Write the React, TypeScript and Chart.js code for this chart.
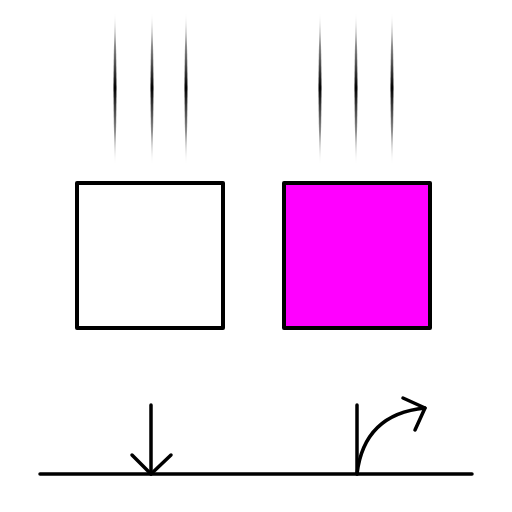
import { useEffect, useRef } from 'react';
import Chart from 'chart.js/auto';

// scene units are pixels of a 512x512 frame, y measured from the top
const squares = [
  { x0: 77, y0: 183, x1: 223, y1: 328, fill: '#ffffff' },
  { x0: 284, y0: 183, x1: 430, y1: 328, fill: '#ff00ff' },
];
const streakX = [115, 152, 186, 320, 356, 392];
const streakTop = 12;
const streakMid = 88;
const streakBottom = 165;
const segments = [
  [[40, 474], [472, 474]],
  [[151, 405], [151, 474]],
  [[132, 455], [151, 474], [171, 455]],
  [[357, 405], [357, 474]],
  [[403, 398], [425, 408], [415, 430]],
];
const curve = { from: [357, 474], ctrl: [364, 414], to: [425, 408] };

const scenePlugin = {
  id: 'scene',
  afterDraw(chart: Chart) {
    const { ctx, scales } = chart;
    const X = (v: number) => scales.x.getPixelForValue(v);
    const Y = (v: number) => scales.y.getPixelForValue(v);
    ctx.save();
    ctx.lineCap = 'round';
    ctx.lineJoin = 'round';

    streakX.forEach((sx) => {
      const g = ctx.createLinearGradient(0, Y(streakTop), 0, Y(streakBottom));
      g.addColorStop(0, 'rgba(0,0,0,0)');
      g.addColorStop((streakMid - streakTop) / (streakBottom - streakTop), 'rgba(0,0,0,1)');
      g.addColorStop(1, 'rgba(0,0,0,0)');
      ctx.fillStyle = g;
      ctx.beginPath();
      ctx.moveTo(X(sx), Y(streakTop));
      ctx.quadraticCurveTo(X(sx + 3), Y(streakMid), X(sx), Y(streakBottom));
      ctx.quadraticCurveTo(X(sx - 3), Y(streakMid), X(sx), Y(streakTop));
      ctx.fill();
    });

    squares.forEach((s) => {
      ctx.fillStyle = s.fill;
      ctx.strokeStyle = '#000';
      ctx.lineWidth = 4;
      ctx.fillRect(X(s.x0), Y(s.y0), X(s.x1) - X(s.x0), Y(s.y1) - Y(s.y0));
      ctx.strokeRect(X(s.x0), Y(s.y0), X(s.x1) - X(s.x0), Y(s.y1) - Y(s.y0));
    });

    ctx.strokeStyle = '#000';
    ctx.lineWidth = 3.5;
    segments.forEach((pts) => {
      ctx.beginPath();
      pts.forEach(([px, py], i) => (i ? ctx.lineTo(X(px), Y(py)) : ctx.moveTo(X(px), Y(py))));
      ctx.stroke();
    });
    ctx.beginPath();
    ctx.moveTo(X(curve.from[0]), Y(curve.from[1]));
    ctx.quadraticCurveTo(X(curve.ctrl[0]), Y(curve.ctrl[1]), X(curve.to[0]), Y(curve.to[1]));
    ctx.stroke();
    ctx.restore();
  },
};

export default function App() {
  const canvasRef = useRef<HTMLCanvasElement>(null);

  useEffect(() => {
    document.body.style.margin = '0';
    if (!canvasRef.current) return;
    const chart = new Chart(canvasRef.current, {
      type: 'scatter',
      data: { datasets: [{ data: [] }] },
      options: {
        animation: false,
        responsive: false,
        layout: { padding: 0 },
        plugins: { legend: { display: false }, tooltip: { enabled: false } },
        scales: {
          x: { type: 'linear', min: 0, max: 512, display: false },
          y: { type: 'linear', min: 0, max: 512, reverse: true, display: false },
        },
      },
      plugins: [scenePlugin],
    });
    return () => chart.destroy();
  }, []);

  return (
    <div style={{ width: 512, height: 512, background: '#fff' }}>
      <canvas ref={canvasRef} width={512} height={512} />
    </div>
  );
}
